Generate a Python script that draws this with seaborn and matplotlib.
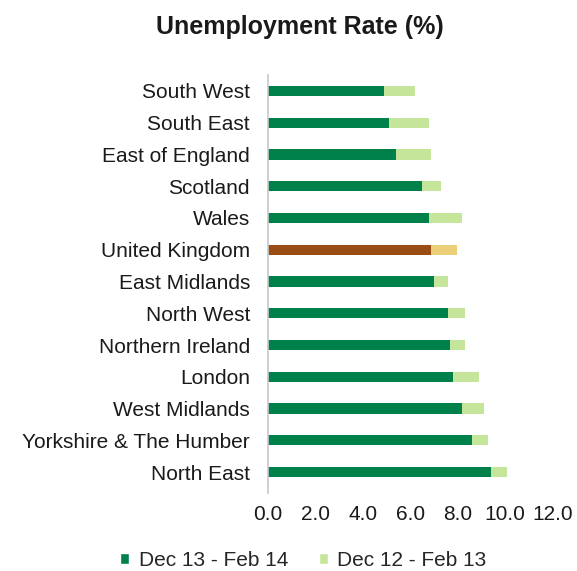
import matplotlib
matplotlib.use("Agg")
import matplotlib.pyplot as plt
import seaborn as sns
import pandas as pd
from matplotlib.patches import Patch

regions = ["South West", "South East", "East of England", "Scotland", "Wales",
           "United Kingdom", "East Midlands", "North West", "Northern Ireland",
           "London", "West Midlands", "Yorkshire & The Humber", "North East"]
rate_dec13_feb14 = [4.9, 5.1, 5.4, 6.5, 6.8, 6.9, 7.0, 7.6, 7.7, 7.8, 8.2, 8.6, 9.4]
rate_dec12_feb13 = [6.2, 6.8, 6.9, 7.3, 8.2, 8.0, 7.6, 8.3, 8.3, 8.9, 9.1, 9.3, 10.1]
x_ticks = [0, 2, 4, 6, 8, 10, 12]

dark_pal = {r: ("#9A4C15" if r == "United Kingdom" else "#00814B") for r in regions}
light_pal = {r: ("#EBCF78" if r == "United Kingdom" else "#C5E59B") for r in regions}

df = pd.DataFrame({"region": regions, "cur": rate_dec13_feb14, "prev": rate_dec12_feb13})

sns.set_theme(style="white")
plt.rcParams["font.family"] = ["Liberation Sans", "DejaVu Sans"]

fig = plt.figure(figsize=(5.77, 5.71), dpi=100)
ax = fig.add_axes([0.4645, 0.1454, 0.4925, 0.7232])

sns.barplot(data=df, y="region", x="prev", hue="region", palette=light_pal,
            order=regions, orient="h", width=0.32, legend=False, ax=ax,
            saturation=1, linewidth=0)
sns.barplot(data=df, y="region", x="cur", hue="region", palette=dark_pal,
            order=regions, orient="h", width=0.32, legend=False, ax=ax,
            saturation=1, linewidth=0)

fs = 15
ax.set_xlim(0, 12)
ax.set_ylim(len(regions) - 0.5, -0.5)
ax.set_xticks(x_ticks)
ax.set_xticklabels([f"{v:.1f}" for v in x_ticks], fontsize=fs, color="#1a1a1a")
ax.set_yticks(range(len(regions)))
ax.set_yticklabels(regions, fontsize=fs, color="#1a1a1a")
ax.set_xlabel("")
ax.set_ylabel("")
ax.tick_params(axis="y", length=0, pad=13)
ax.tick_params(axis="x", length=0, pad=12)
for s in ["top", "right", "bottom"]:
    ax.spines[s].set_visible(False)
ax.spines["left"].set_color("#C8C8C8")
ax.spines["left"].set_linewidth(1.2)
ax.spines["left"].set_bounds(len(regions) - 0.35, -0.5)

fig.text(0.52, 0.953, "Unemployment Rate (%)", ha="center", va="center",
         fontsize=18, fontweight="bold", color="#1a1a1a")

handles = [Patch(facecolor="#00814B", label="Dec 13 - Feb 14"),
           Patch(facecolor="#C5E59B", label="Dec 12 - Feb 13")]
fig.legend(handles=handles, loc="center", bbox_to_anchor=(0.526, 0.018), ncol=2,
           frameon=False, fontsize=fs, handlelength=0.42, handleheight=0.42,
           handletextpad=0.45, columnspacing=1.5, borderaxespad=0, borderpad=0)

fig.savefig("out.png", dpi=100)
